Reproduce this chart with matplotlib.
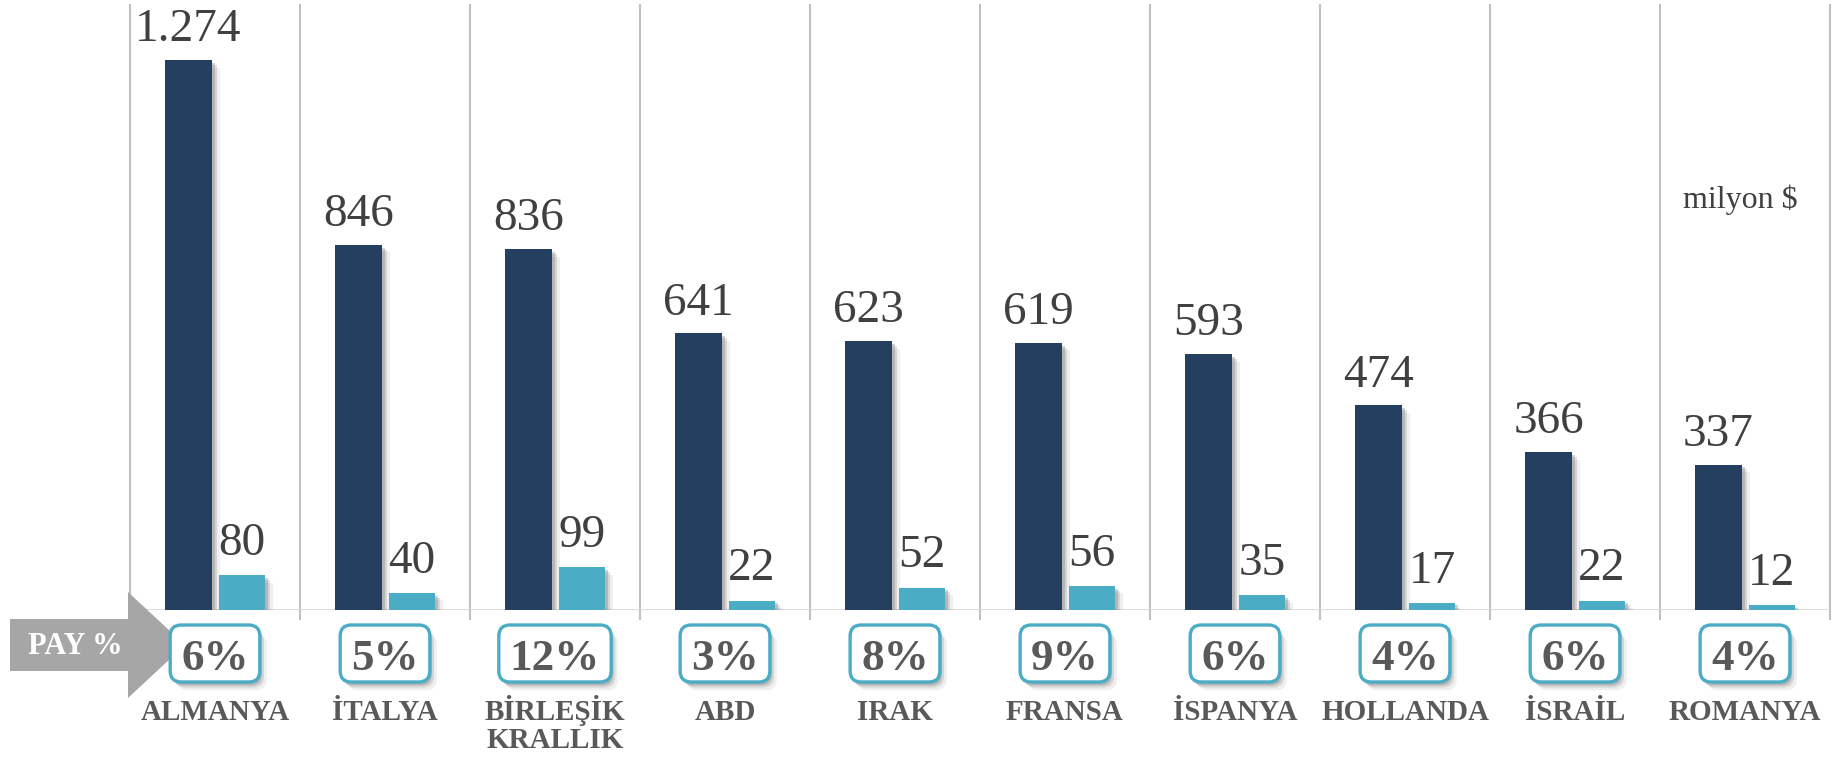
import matplotlib
matplotlib.use("Agg")
import matplotlib.pyplot as plt
import matplotlib.patheffects as pe
from matplotlib.patches import Polygon, FancyBboxPatch
from matplotlib.transforms import blended_transform_factory

# ---- data ----
countries = ["ALMANYA", "İTALYA", "BİRLEŞİK\nKRALLIK", "ABD", "IRAK", "FRANSA",
             "İSPANYA", "HOLLANDA", "İSRAİL", "ROMANYA"]
total_values = [1274, 846, 836, 641, 623, 619, 593, 474, 366, 337]
share_values = [80, 40, 99, 22, 52, 56, 35, 17, 22, 12]
total_labels = ["1.274", "846", "836", "641", "623", "619", "593", "474", "366", "337"]
pay_labels = ["6%", "5%", "12%", "3%", "8%", "9%", "6%", "4%", "6%", "4%"]
unit_label = "milyon $"
pay_title = "PAY %"

DARK = "#243F60"
LIGHT = "#4BACC6"
W, H = 1833, 758
SERIF = ["Liberation Serif", "DejaVu Serif"]

fig = plt.figure(figsize=(W / 100, H / 100), dpi=100)
ax = fig.add_axes([130 / W, 1 - 610 / H, 1700 / W, 605 / H])
ax.set_xlim(-0.5, len(countries) - 0.5)
ax.set_ylim(0, 605 / 0.4317)
ax.axis("off")


def soft_shadow(dx=4, dy=-4):
    return [pe.SimplePatchShadow(offset=(dx + 2, dy - 2), shadow_rgbFace="#9a9a9a", alpha=0.15),
            pe.SimplePatchShadow(offset=(dx, dy), shadow_rgbFace="#8a8a8a", alpha=0.25),
            pe.SimplePatchShadow(offset=(dx - 1.5, dy + 1.5), shadow_rgbFace="#7a7a7a", alpha=0.35),
            pe.Normal()]


x = list(range(len(countries)))
xd = [i - 0.156 for i in x]
xl = [i + 0.159 for i in x]
bars_d = ax.bar(xd, total_values, width=0.276, color=DARK, zorder=3)
bars_l = ax.bar(xl, share_values, width=0.272, color=LIGHT, zorder=3)
for b in list(bars_d) + list(bars_l):
    b.set_path_effects(soft_shadow(3.5, -3.5))

# grid lines
for k in range(len(countries) + 1):
    ax.axvline(k - 0.5, ymin=-9 / 605, ymax=1, color="#c0c0c0", lw=1.5, clip_on=False, zorder=1)
ax.axhline(0, color="#d9d9d9", lw=2, zorder=2)

# value labels
for xi, v, lab in zip(xd, total_values, total_labels):
    ax.annotate(lab, (xi, v), xytext=(0, 13.5), textcoords="offset points",
                ha="center", va="baseline", fontsize=34, family=SERIF, color="#404040", zorder=5)
for xi, v in zip(xl, share_values):
    ax.annotate(str(v), (xi, v), xytext=(0, 14.5), textcoords="offset points",
                ha="center", va="baseline", fontsize=34, family=SERIF, color="#404040", zorder=5)

tr = blended_transform_factory(ax.transData, fig.transFigure)
renderer = fig.canvas.get_renderer()
for xi, p, c in zip(x, pay_labels, countries):
    cx = ax.transData.transform((xi, 0))[0]
    t = fig.text(cx / W, 1 - 670 / H, p, ha="center", va="baseline",
                 fontsize=32.5, fontweight="bold", family=SERIF, color="#595959", zorder=8)
    ext = t.get_window_extent(renderer)
    bw = ext.width + 22
    box = FancyBboxPatch(((cx - bw / 2) / 100, (H - 682) / 100), bw / 100, 57 / 100,
                         boxstyle="round,pad=0,rounding_size=0.11",
                         transform=fig.dpi_scale_trans, fc="white", ec=LIGHT, lw=2.4,
                         zorder=6)
    box.set_path_effects(soft_shadow(3, -4))
    fig.patches.append(box)
    for j, line in enumerate(c.split("\n")):
        ax.text(xi, 1 - (720 + 28 * j) / H, line, transform=tr, ha="center", va="baseline",
                fontsize=21, fontweight="bold", family=SERIF, color="#595959", zorder=6)

# arrow
pts = [(10, 619), (128, 619), (128, 592), (185, 645), (128, 698), (128, 671), (10, 671)]
arrow = Polygon([(px / W, 1 - py / H) for px, py in pts], closed=True,
                transform=fig.transFigure, fc="#a6a6a6", ec="none", zorder=4)
fig.patches.append(arrow)
fig.text(75 / W, 1 - 646 / H, pay_title, ha="center", va="center", fontsize=22,
         fontweight="bold", family=SERIF, color="white", zorder=5)

fig.text(1740 / W, 1 - 200 / H, unit_label, ha="center", va="center", fontsize=23,
         family=SERIF, color="#404040")

fig.savefig("out.png", dpi=100, facecolor="white")
